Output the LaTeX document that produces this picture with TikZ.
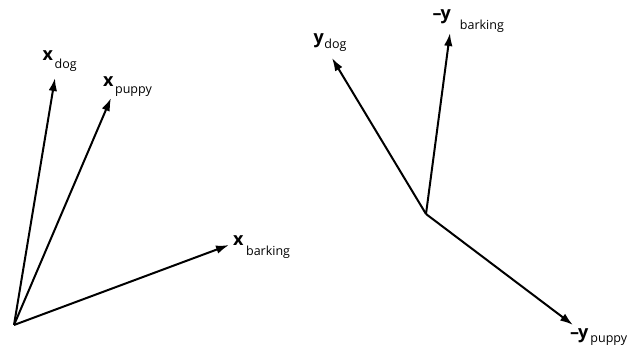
\documentclass[tikz,border=0pt]{standalone}
\usepackage{fontspec}
\setmainfont{Open Sans}
\usetikzlibrary{arrows.meta}
\newcommand\vmain[1]{{\fontsize{18}{18}\selectfont\bfseries #1}}
\newcommand\vsub[3]{\hspace{#1}\raisebox{-#2}{\fontsize{12.5}{12.5}\selectfont #3}}
\tikzset{
  vec/.style={line width=2pt,-{Latex[length=13pt,width=8.5pt]}},
  lbl/.style={inner sep=0pt,anchor=base west}
}
\begin{document}
\begin{tikzpicture}[x=1pt,y=-1pt]
\useasboundingbox (0,0) rectangle (629,352);
% left origin and tips
\coordinate (o1) at (14,325);
\coordinate (xdog) at (55,78);
\coordinate (xpup) at (111,98);
\coordinate (xbark) at (229,245);
\draw[vec] (o1) -- (xdog);
\draw[vec] (o1) -- (xpup);
\draw[vec] (o1) -- (xbark);
\node[lbl] (lxdog) at (42.5,60.7) {\vmain{x}\vsub{1.5pt}{7.6pt}{dog}};
\node[lbl] (lxpup) at (103,86.7) {\vmain{x}\vsub{1.5pt}{7pt}{puppy}};
\node[lbl] (lxbark) at (233,245.7) {\vmain{x}\vsub{2.5pt}{10pt}{barking}};
% right origin and tips
\coordinate (o2) at (426,214);
\coordinate (ydog) at (332,58);
\coordinate (ybark) at (450,33);
\coordinate (ypup) at (573,325);
\draw[vec] (o2) -- (ydog);
\draw[vec] (o2) -- (ybark);
\draw[vec] (o2) -- (ypup);
\node[lbl] (lydog) at (313.5,43.3) {\vmain{y}\vsub{0.5pt}{5pt}{dog}};
\node[lbl] (lybark) at (432.5,19.3) {\vmain{–\kern-1pt y}\vsub{9pt}{10.7pt}{barking}};
\node[lbl] (lypup) at (570,339) {\vmain{–\kern-1pt y}\vsub{2pt}{4pt}{puppy}};
\end{tikzpicture}
\end{document}
